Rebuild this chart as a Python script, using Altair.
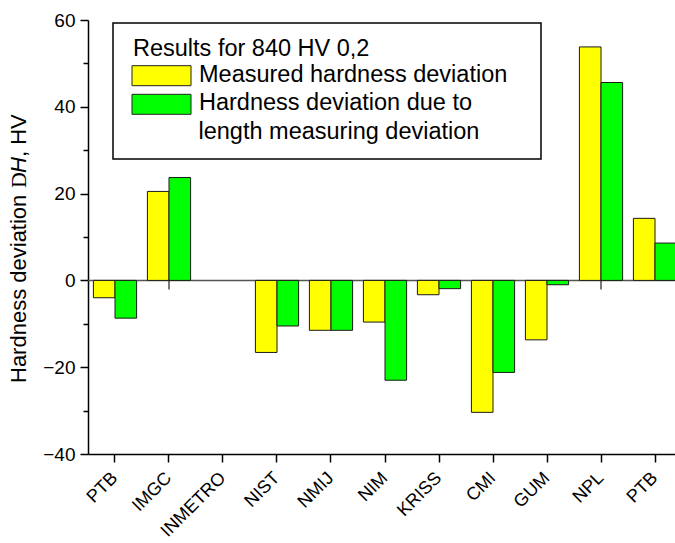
import json
import altair as alt
import pandas as pd

# Laboratories (the reference lab PTB appears at both ends of the comparison)
labs = ["PTB", "IMGC", "INMETRO", "NIST", "NMIJ", "NIM", "KRISS", "CMI", "GUM", "NPL", "PTB"]
measured = [-4.0, 20.5, None, -16.6, -11.5, -9.6, -3.3, -30.4, -13.7, 53.8, 14.3]
length_dev = [-8.7, 23.7, None, -10.5, -11.5, -23.0, -1.9, -21.2, -1.0, 45.6, 8.6]

series = ["Measured hardness deviation", "Hardness deviation due to length measuring deviation"]
colors = ["#ffff00", "#00ff00"]
legend_title = "Results for 840 HV 0,2"
legend_lines = ["Measured hardness deviation", "Hardness deviation due to", "length measuring deviation"]
y_ticks = list(range(-40, 61, 10))

SANS = "Liberation Sans, Arial, sans-serif"
SERIF = "Liberation Serif, Times New Roman, serif"

rows = []
for i, (m, l) in enumerate(zip(measured, length_dev)):
    rows.append({"slot": i, "series": series[0], "value": m})
    rows.append({"slot": i, "series": series[1], "value": l})
df = pd.DataFrame(rows)
slot_ids = list(range(len(labs)))
slots = pd.DataFrame({"slot": slot_ids})

x_enc = alt.X(
    "slot:O",
    scale=alt.Scale(domain=slot_ids, range=[0, 594], paddingInner=0.2, paddingOuter=0.1),
    axis=alt.Axis(
        title=None,
        labelExpr=json.dumps(labs) + "[datum.value]",
        labelAngle=315,
        labelAlign="right",
        labelBaseline="middle",
        labelPadding=13,
        labelFont=SANS,
        labelFontSize=18,
        labelColor="#000",
        labelOverlap=False,
        tickSize=8,
        tickWidth=1.5,
        tickColor="#000",
        domainColor="#000",
        domainWidth=1.5,
        grid=False,
    ),
)

y_enc = alt.Y(
    "value:Q",
    scale=alt.Scale(domain=[-40, 60], nice=False),
    axis=alt.Axis(
        title=None,
        values=y_ticks,
        labelExpr="datum.value % 20 === 0 ? datum.label : ''",
        tickSize={"condition": {"test": "datum.value % 20 === 0", "value": 8}, "value": 5},
        tickWidth=1.5,
        tickColor="#000",
        domainColor="#000",
        domainWidth=1.5,
        labelFont=SANS,
        labelFontSize=19,
        labelColor="#000",
        labelPadding=5,
        grid=False,
    ),
)

zero_line = alt.Chart(pd.DataFrame({"v": [0]})).mark_rule(color="#555", strokeWidth=1.5).encode(
    y=alt.Y("v:Q")
)

zero_ticks = (
    alt.Chart(slots)
    .transform_filter("datum.slot % 2 == 1")
    .mark_tick(orient="vertical", size=9, thickness=1.5, yOffset=4.5, color="#000")
    .encode(x=alt.X("slot:O"), y=alt.datum(0))
)

bars = alt.Chart(df).mark_bar(stroke="#1a1a1a", strokeWidth=1).encode(
    x=x_enc,
    xOffset=alt.XOffset("series:N", sort=series, scale=alt.Scale(paddingInner=0, paddingOuter=0)),
    y=y_enc,
    color=alt.Color("series:N", sort=series, scale=alt.Scale(domain=series, range=colors), legend=None),
)

# Legend box drawn by hand
box = alt.Chart(pd.DataFrame({"k": [0]})).mark_rect(fill="white", stroke="#000", strokeWidth=1.5).encode(
    x=alt.value(25), x2=alt.value(453), y=alt.value(3), y2=alt.value(139)
)


def text_layer(txt, x, y, **kw):
    return alt.Chart(pd.DataFrame({"t": [txt]})).mark_text(
        font=kw.pop("font", SANS), fontSize=kw.pop("fontSize", 23.5), color="#000",
        align=kw.pop("align", "left"), baseline=kw.pop("baseline", "alphabetic"), **kw
    ).encode(text="t:N", x=alt.value(x), y=alt.value(y))


def swatch(color, y0):
    return alt.Chart(pd.DataFrame({"k": [0]})).mark_rect(fill=color, stroke="#222", strokeWidth=1).encode(
        x=alt.value(44), x2=alt.value(103), y=alt.value(y0), y2=alt.value(y0 + 20)
    )


legend = [
    box,
    text_layer(legend_title, 45, 35.7),
    swatch(colors[0], 45.7),
    swatch(colors[1], 74.3),
    text_layer(legend_lines[0], 111, 62),
    text_layer(legend_lines[1], 111, 90),
    text_layer(legend_lines[2], 110.5, 118.5),
]

# Vertical axis title with mixed styling
ytitle = [
    text_layer("Hardness deviation ", -69, 363, angle=270, baseline="middle", fontSize=22),
    text_layer("D", -69, 168, angle=270, baseline="middle", fontSize=22, font=SERIF),
    text_layer("H", -69, 153, angle=270, baseline="middle", fontSize=22, fontStyle="italic"),
    text_layer(", HV", -69, 137, angle=270, baseline="middle", fontSize=22),
]

chart = (
    alt.layer(zero_line, zero_ticks, bars, *legend, *ytitle)
    .properties(
        width=587,
        height=434,
        autosize=alt.AutoSizeParams(type="none"),
        padding={"left": 88, "top": 20, "right": 0, "bottom": 89},
        background="white",
    )
    .configure_view(stroke=None)
)

chart.save("out.html", embed_options={"renderer": "svg", "actions": False})
